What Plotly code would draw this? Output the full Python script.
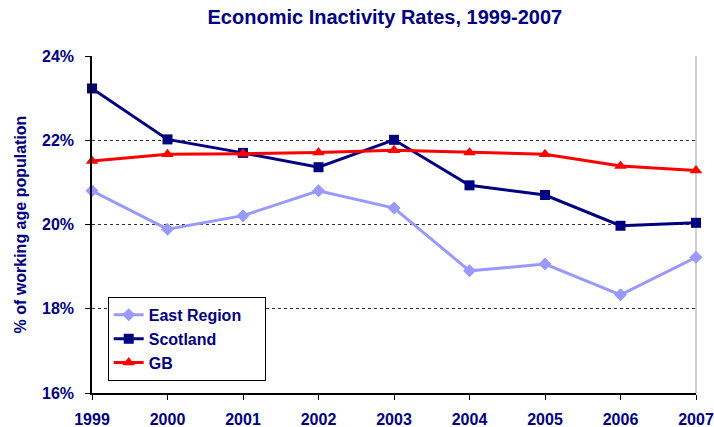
import plotly.graph_objects as go

years = [1999, 2000, 2001, 2002, 2003, 2004, 2005, 2006, 2007]
year_labels = [str(y) for y in years]
east_region = [20.80, 19.89, 20.21, 20.80, 20.39, 18.90, 19.06, 18.33, 19.22]
scotland = [23.23, 22.02, 21.70, 21.36, 22.01, 20.93, 20.70, 19.97, 20.04]
gb = [21.51, 21.67, 21.68, 21.71, 21.76, 21.71, 21.67, 21.39, 21.28]
y_ticks = [16, 18, 20, 22, 24]
y_tick_labels = [f"{v}%" for v in y_ticks]

navy = "#000080"
font_family = "Liberation Sans, Arial, sans-serif"

fig = go.Figure()
fig.add_trace(go.Scatter(x=years, y=east_region, name="<b>East Region</b>&nbsp;&nbsp;&nbsp;&nbsp;", mode="lines+markers",
                         line=dict(color="#9999FF", width=3),
                         marker=dict(symbol="diamond", size=10, color="#9999FF"),
                         cliponaxis=False))
fig.add_trace(go.Scatter(x=years, y=scotland, name="<b>Scotland</b>", mode="lines+markers",
                         line=dict(color=navy, width=3),
                         marker=dict(symbol="square", size=10, color=navy),
                         cliponaxis=False))
fig.add_trace(go.Scatter(x=years, y=gb, name="<b>GB</b>", mode="lines+markers",
                         line=dict(color="#FF0000", width=3),
                         marker=dict(symbol="triangle-up", size=11, color="#FF0000"),
                         cliponaxis=False))

fig.update_layout(
    width=714, height=427,
    margin=dict(l=92, r=18, t=56, b=34, autoexpand=False),
    paper_bgcolor="white", plot_bgcolor="white",
    title=dict(text="<b>Economic Inactivity Rates, 1999-2007</b>",
               x=0.539, xanchor="center", y=0.96, yanchor="middle",
               font=dict(family=font_family, size=20, color=navy)),
    font=dict(family=font_family, color=navy, size=16),
    showlegend=True,
    legend=dict(x=0.026, y=0.285, xanchor="left", yanchor="top",
                bgcolor="white", bordercolor="black", borderwidth=1,
                font=dict(family=font_family, size=16, color=navy),
                tracegroupgap=0, itemwidth=30),
    xaxis=dict(range=[1999, 2007], tickvals=years, ticktext=[f"<b>{t}</b>" for t in year_labels],
               showgrid=False, zeroline=False, showline=True, linecolor="black", linewidth=1.5,
               ticks="outside", ticklen=5, tickcolor="black", ticklabelstandoff=6,
               tickfont=dict(family=font_family, size=16, color=navy), automargin=False),
    yaxis=dict(range=[16, 24], tickvals=y_ticks, ticktext=[f"<b>{t}</b>" for t in y_tick_labels],
               showgrid=True, gridcolor="#333333", griddash="dot", gridwidth=1,
               zeroline=False, showline=True, linecolor="black", linewidth=1.5,
               ticks="outside", ticklen=5, tickcolor="black", ticklabelstandoff=8,
               tickfont=dict(family=font_family, size=16, color=navy), automargin=False,
               title=dict(text="<b>% of working age population</b>", standoff=11,
                          font=dict(family=font_family, size=16, color=navy))),
)
fig.add_shape(type="line", xref="paper", yref="paper", x0=1, x1=1, y0=0, y1=1,
              line=dict(color="#C0C0C0", width=1.5), layer="below")

fig.write_html("out.html", config={"displayModeBar": False},
               post_script="document.body.style.margin='0';")
